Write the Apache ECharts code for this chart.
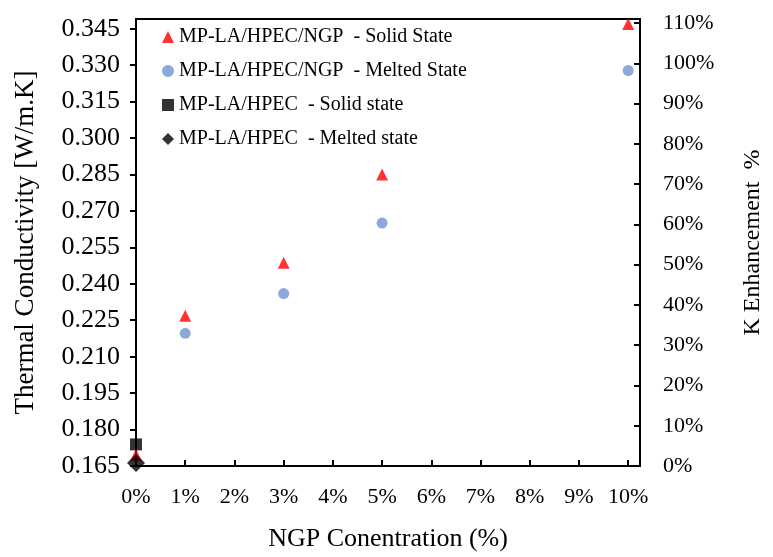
<!DOCTYPE html>
<html>
<head>
<meta charset="utf-8">
<script src="https://cdn.jsdelivr.net/npm/echarts@6/dist/echarts.min.js"></script>
<style>
  html, body { margin: 0; padding: 0; background: #fff; }
  #chart { width: 773px; height: 557px; }
</style>
</head>
<body>
<div id="chart"></div>
<script>
// NGP loading (fraction) for each composite sample
const ngpLoading = [0, 0.01, 0.03, 0.05, 0.10];
// Thermal conductivity, W/m.K
const ngpSolid = [0.1695, 0.2268, 0.2487, 0.2850, 0.3469];
const ngpMelted = [null, 0.2196, 0.2360, 0.2650, 0.3278];
const baseLoading = [0];
const baseSolid = [0.1739];
const baseMelted = [0.1662];

const seriesNames = [
  'MP-LA/HPEC/NGP  - Solid State',
  'MP-LA/HPEC/NGP  - Melted State',
  'MP-LA/HPEC  - Solid state',
  'MP-LA/HPEC  - Melted state'
];

const FONT = 'Liberation Serif, Times New Roman, serif';

function pairs(xs, ys) {
  const out = [];
  for (let i = 0; i < xs.length; i++) {
    if (ys[i] !== null) out.push([xs[i], ys[i]]);
  }
  return out;
}

const chart = echarts.init(document.getElementById('chart'), null, { renderer: 'canvas' });

chart.setOption({
  backgroundColor: '#fff',
  animation: false,
  grid: {
    left: 136, right: 118, top: 19, bottom: 81,
    show: true, borderColor: '#000', borderWidth: 2, backgroundColor: 'transparent'
  },
  legend: {
    orient: 'vertical',
    left: 157, top: 22,
    itemWidth: 12, itemHeight: 12, itemGap: 14,
    textStyle: { fontFamily: FONT, fontSize: 20, color: '#000' },
    data: seriesNames
  },
  xAxis: {
    type: 'value',
    min: 0, max: 0.1024, interval: 0.01,
    name: 'NGP Conentration (%)',
    nameLocation: 'middle', nameGap: 60,
    nameTextStyle: { fontFamily: FONT, fontSize: 26, color: '#000' },
    axisLine: { show: true, lineStyle: { color: '#000', width: 2 } },
    axisTick: { show: true, inside: true, length: 6, lineStyle: { color: '#000', width: 2 } },
    axisLabel: {
      margin: 20, fontFamily: FONT, fontSize: 22, color: '#000', showMaxLabel: false,
      formatter: v => Math.round(v * 100) + '%'
    },
    splitLine: { show: false }
  },
  yAxis: [
    {
      type: 'value',
      min: 0.165, max: 0.349, interval: 0.015,
      name: 'Thermal Conductivity [W/m.K]',
      nameLocation: 'middle', nameGap: 97,
      nameTextStyle: { fontFamily: FONT, fontSize: 27, color: '#000' },
      axisLine: { show: true, lineStyle: { color: '#000', width: 2 } },
      axisTick: { show: true, inside: false, length: 6, lineStyle: { color: '#000', width: 2 } },
      axisLabel: {
        margin: 16, fontFamily: FONT, fontSize: 26, color: '#000', showMaxLabel: false,
        formatter: v => v.toFixed(3)
      },
      splitLine: { show: false }
    },
    {
      type: 'value',
      position: 'right',
      min: 0, max: 1.11, interval: 0.1,
      name: 'K Enhancement  %',
      nameLocation: 'middle', nameGap: 101,
      nameTextStyle: { fontFamily: FONT, fontSize: 24, color: '#000' },
      axisLine: { show: true, lineStyle: { color: '#000', width: 2 } },
      axisTick: { show: true, inside: true, length: 6, lineStyle: { color: '#000', width: 2 } },
      axisLabel: {
        margin: 23, fontFamily: FONT, fontSize: 22, color: '#000', showMaxLabel: false,
        formatter: v => Math.round(v * 100) + '%'
      },
      splitLine: { show: false }
    }
  ],
  series: [
    {
      name: seriesNames[0], type: 'scatter', yAxisIndex: 0, clip: false,
      symbol: 'triangle', symbolSize: 12,
      itemStyle: { color: '#ff0000' },
      data: pairs(ngpLoading, ngpSolid), z: 2
    },
    {
      name: seriesNames[1], type: 'scatter', yAxisIndex: 0, clip: false,
      symbol: 'circle', symbolSize: 11,
      itemStyle: { color: '#6f93d0' },
      data: pairs(ngpLoading, ngpMelted), z: 2
    },
    {
      name: seriesNames[2], type: 'scatter', yAxisIndex: 0, clip: false,
      symbol: 'rect', symbolSize: 12,
      itemStyle: { color: '#000' },
      data: pairs(baseLoading, baseSolid), z: 3
    },
    {
      name: seriesNames[3], type: 'scatter', yAxisIndex: 0, clip: false,
      symbol: 'diamond', symbolSize: 18,
      itemStyle: { color: '#000' },
      data: pairs(baseLoading, baseMelted), z: 4
    }
  ]
});
</script>
</body>
</html>
